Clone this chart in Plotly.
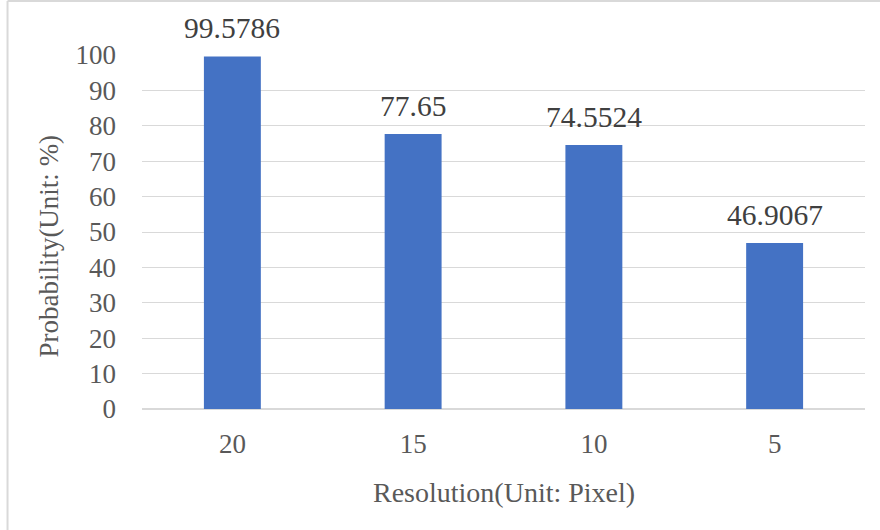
import plotly.graph_objects as go

# Detection probability by resolution
resolutions = ["20", "15", "10", "5"]
probability = [99.5786, 77.65, 74.5524, 46.9067]
prob_labels = ["99.5786", "77.65", "74.5524", "46.9067"]
y_ticks = [0, 10, 20, 30, 40, 50, 60, 70, 80, 90, 100]

FONT = "Liberation Serif"
BAR = "#4472C4"
GRID = "#D9D9D9"
TICK_COLOR = "#595959"
LABEL_COLOR = "#404040"

fig = go.Figure(
    go.Bar(
        x=resolutions,
        y=probability,
        marker=dict(color=BAR, line=dict(width=0)),
        cliponaxis=False,
        hoverinfo="x+y",
    )
)

# Value labels above each bar (category axis positions are indices)
for idx, (val, lab) in enumerate(zip(probability, prob_labels)):
    fig.add_annotation(
        x=idx, y=val, text=lab,
        xref="x", yref="y",
        xanchor="center", yanchor="bottom",
        yshift=10,
        showarrow=False,
        font=dict(family=FONT, size=29.5, color=LABEL_COLOR),
    )

fig.update_layout(
    width=880,
    height=530,
    margin=dict(l=142, r=15, t=55, b=121),
    paper_bgcolor="white",
    plot_bgcolor="white",
    bargap=0.685,
    showlegend=False,
    font=dict(family=FONT, size=27, color=TICK_COLOR),
)

fig.update_xaxes(
    type="category",
    range=[-0.5, len(resolutions) - 0.5],
    showgrid=False,
    showline=True,
    linecolor=GRID,
    linewidth=1,
    ticks="",
    ticklabelstandoff=11,
    tickfont=dict(family=FONT, size=27, color=TICK_COLOR),
)

fig.update_yaxes(
    range=[0, 100],
    tickvals=y_ticks,
    showgrid=True,
    gridcolor=GRID,
    gridwidth=1,
    zeroline=True,
    zerolinecolor=GRID,
    showline=False,
    ticks="",
    ticklabelstandoff=25,
    tickfont=dict(family=FONT, size=27, color=TICK_COLOR),
)

# Axis titles
fig.add_annotation(
    text="Resolution(Unit: Pixel)",
    xref="paper", yref="paper",
    x=0.5, y=-0.237,
    xanchor="center", yanchor="middle",
    showarrow=False,
    font=dict(family=FONT, size=28, color=TICK_COLOR),
)
fig.add_annotation(
    text="Probability(Unit: %)",
    xref="paper", yref="paper",
    x=-0.128, y=0.46,
    xanchor="center", yanchor="middle",
    textangle=-90,
    showarrow=False,
    font=dict(family=FONT, size=27, color=TICK_COLOR),
)

# Chart frame (top and left edges)
fig.add_shape(type="line", xref="paper", yref="paper",
              x0=-0.186, x1=1.03, y0=1.1525, y1=1.1525,
              line=dict(color=GRID, width=2))
fig.add_shape(type="line", xref="paper", yref="paper",
              x0=-0.186, x1=-0.186, y0=-0.35, y1=1.1525,
              line=dict(color=GRID, width=2))

fig.write_html("out.html")
